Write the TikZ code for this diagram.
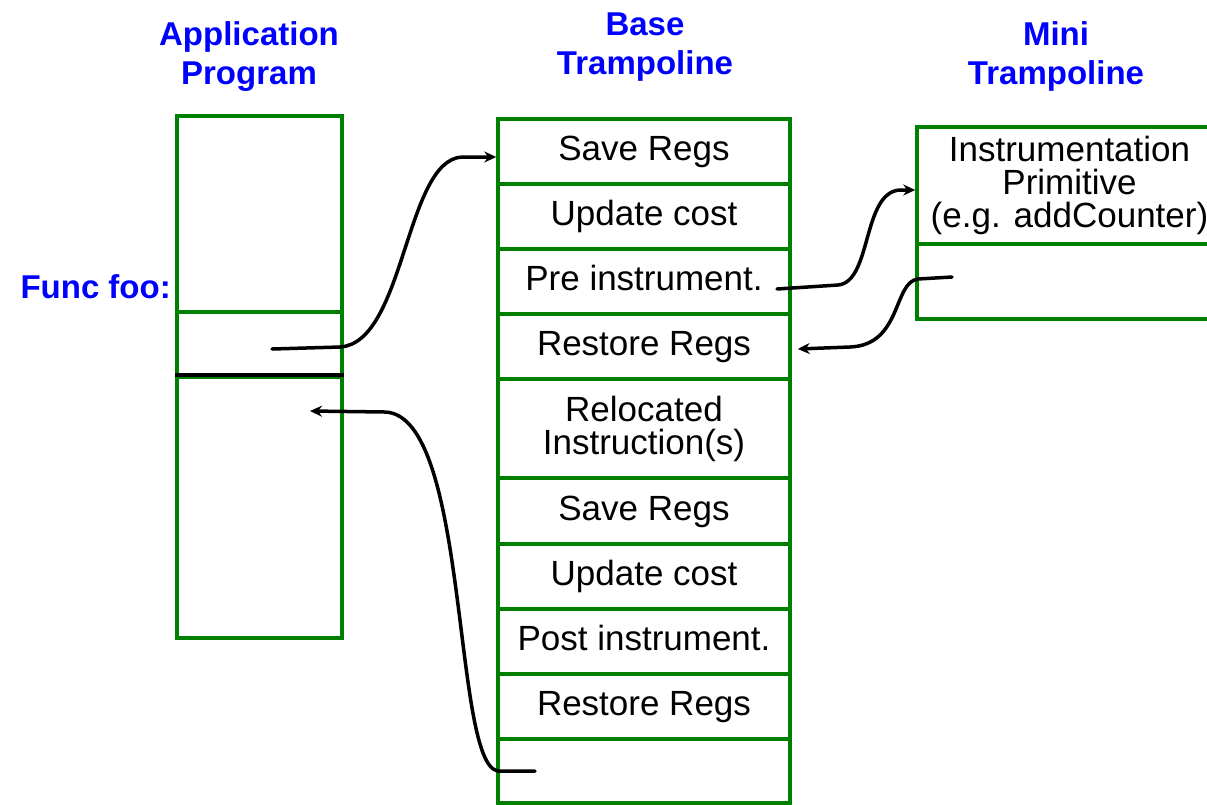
\documentclass[tikz,border=0pt]{standalone}
\usepackage{fontspec}
\setmainfont{Liberation Sans}
\usetikzlibrary{arrows.meta}
\definecolor{boxgreen}{RGB}{0,128,0}
\definecolor{titleblue}{RGB}{0,0,255}

\begin{document}
\begin{tikzpicture}[x=1pt, y=-1pt,
  frame/.style={draw=boxgreen, line width=3.5pt, inner sep=0pt},
  cell/.style={frame, minimum width=292pt, minimum height=65pt,
    font=\fontsize{35}{33}\selectfont, align=center},
  onerow/.style={text height=25pt, text depth=7pt},
  appcell/.style={frame, minimum width=165pt},
  minicell/.style={frame, minimum width=305pt,
    font=\fontsize{35}{33}\selectfont, align=center},
  title/.style={font=\fontsize{33}{39}\selectfont\bfseries,
    text=titleblue, align=center, inner sep=0pt},
  link/.style={draw=black, line width=3.5pt, line cap=round,
    -{Stealth[length=12pt,width=11pt]}}
]
\useasboundingbox (0,0) rectangle (1207,804);
\clip (0,0) rectangle (1207,804);

% column titles
\node[title] (tapp)  at (249,57) {Application\\Program};
\node[title] (tbase) at (645,47) {Base\\Trampoline};
\node[title] (tmini) at (1056,56) {Mini\\Trampoline};
\node[title, anchor=east] (lfoo) at (171,287) {Func foo:};

% application program
\node[appcell, minimum height=196pt] (atop) at (259.5,214) {};
\node[appcell, minimum height=65pt]  (amid) at (259.5,344.5) {};
\node[appcell, minimum height=261pt] (abot) at (259.5,507.5) {};
\draw[line width=4pt] (abot.north west) -- (abot.north east);

% base trampoline
\node[cell, onerow] (bsave)  at (644,151.5) {Save Regs};
\node[cell, onerow] (bcost)  at (644,216.5) {Update cost};
\node[cell, onerow] (bpre)   at (644,281.5) {Pre instrument.};
\node[cell, onerow] (brest)  at (644,346.5) {Restore Regs};
\node[cell, minimum height=99pt] (breloc) at (644,428.5) {Relocated\\Instruction(s)};
\node[cell, onerow, minimum height=66pt] (bsave2) at (644,511) {Save Regs};
\node[cell, onerow] (bcost2) at (644,576.5) {Update cost};
\node[cell, onerow] (bpost)  at (644,641.5) {Post instrument.};
\node[cell, onerow] (brest2) at (644,706.5) {Restore Regs};
\node[cell, minimum height=64pt] (bexit) at (644,771) {};

% mini trampoline
\node[minicell, minimum height=117pt] (mprim) at (1069.5,185.5)
  {Instrumentation\\Primitive\\(e.g. addCounter)};
\node[minicell, minimum height=75pt] (mlow) at (1069.5,281.5) {};

% connector end points inside the boxes
\coordinate (callsite) at (272,349);
\coordinate (retsite)  at (310,411);
\coordinate (bret)     at (535,771);
\coordinate (prex)     at (777,289);
\coordinate (mret)     at (952,277);

% control flow
\draw[link] (callsite) -- (340,347)
  .. controls (405,343) and (405,160) .. (462,157)
  -- ([yshift=-5.5pt]bsave.west);
\draw[link] (bret) -- (498,771)
  .. controls (452,765) and (470,415) .. (385,412)
  -- (retsite);
\draw[link] (prex) -- (838,285)
  .. controls (872,282) and (862,192) .. (900,190)
  -- ([yshift=-4.5pt]mprim.west);
\draw[link] (mret) -- (918,279)
  .. controls (893,282) and (902,345) .. (850,347)
  -- ([xshift=6pt,yshift=-2.5pt]brest.east);
\end{tikzpicture}
\end{document}
